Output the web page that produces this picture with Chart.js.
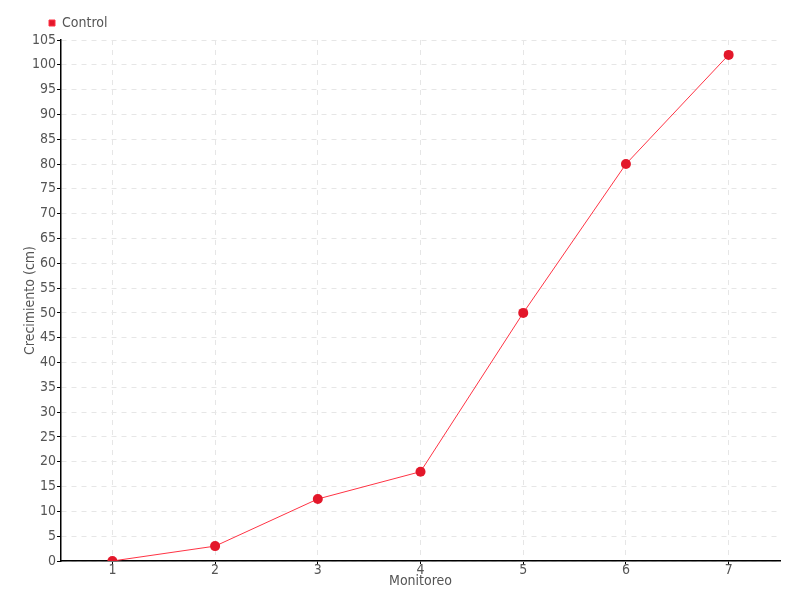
<!DOCTYPE html>
<html>
<head>
<meta charset="utf-8">
<script src="https://cdn.jsdelivr.net/npm/chart.js@4/dist/chart.umd.min.js"></script>
<style>
  html, body { margin: 0; padding: 0; background: #fff; }
  #wrap { width: 800px; height: 600px; }
</style>
</head>
<body>
<div id="wrap"><canvas id="growthChart"></canvas></div>
<script>
// Chart data
const monitoreo = ["1", "2", "3", "4", "5", "6", "7"];
const control = [0, 3, 12.5, 18, 50, 80, 102];

const FONT = "'Liberation Sans Narrow', 'DejaVu Sans Condensed', sans-serif";
const textColor = "#555";

// move the legend a bit to the right, like the original
const legendShift = {
    id: "legendShift",
    afterLayout(chart) {
        if (chart.legend) {
            chart.legend.left += 28;
            chart.legend.right += 28;
        }
    }
};

document.addEventListener("DOMContentLoaded", function () {
    const ctx = document.getElementById("growthChart").getContext("2d");

    new Chart(ctx, {
        type: "line",
        data: {
            labels: monitoreo,
            datasets: [{
                label: "Control",
                data: control,
                borderColor: "#ff3344",
                backgroundColor: "#e3172a",
                borderWidth: 1,
                pointRadius: 5,
                pointHoverRadius: 5,
                pointBackgroundColor: "#e3172a",
                pointBorderColor: "#e3172a",
                pointBorderWidth: 0,
                tension: 0
            }]
        },
        options: {
            responsive: true,
            maintainAspectRatio: false,
            animation: false,
            layout: { padding: { left: 17, right: 20, top: 12, bottom: 12 } },
            plugins: {
                legend: {
                    position: "top",
                    align: "start",
                    labels: {
                        boxWidth: 6,
                        boxHeight: 6,
                        padding: 4,
                        color: textColor,
                        font: { family: FONT, size: 14 }
                    }
                },
                tooltip: { enabled: false }
            },
            scales: {
                x: {
                    offset: true,
                    grid: {
                        offset: false,
                        color: "#e6e6e6",
                        tickColor: "#000",
                        tickLength: 3
                    },
                    border: { color: "#000", width: 1.5, dash: [5, 5] },
                    ticks: {
                        color: textColor,
                        padding: -1,
                        font: { family: FONT, size: 14, lineHeight: 1 }
                    },
                    title: {
                        display: true,
                        text: "Monitoreo",
                        color: textColor,
                        padding: { top: -2, bottom: 0 },
                        font: { family: FONT, size: 14, lineHeight: 1 }
                    }
                },
                y: {
                    min: 0,
                    max: 105,
                    grid: {
                        color: "#e6e6e6",
                        tickColor: "#000",
                        tickLength: 4
                    },
                    border: { color: "#000", width: 1.5, dash: [5, 5] },
                    ticks: {
                        stepSize: 5,
                        color: textColor,
                        padding: 1,
                        font: { family: FONT, size: 14 }
                    },
                    title: {
                        display: true,
                        text: "Crecimiento (cm)",
                        color: textColor,
                        padding: { top: 6, bottom: -6 },
                        font: { family: FONT, size: 14, lineHeight: 1 }
                    }
                }
            }
        },
        plugins: [legendShift]
    });
});
</script>
</body>
</html>
